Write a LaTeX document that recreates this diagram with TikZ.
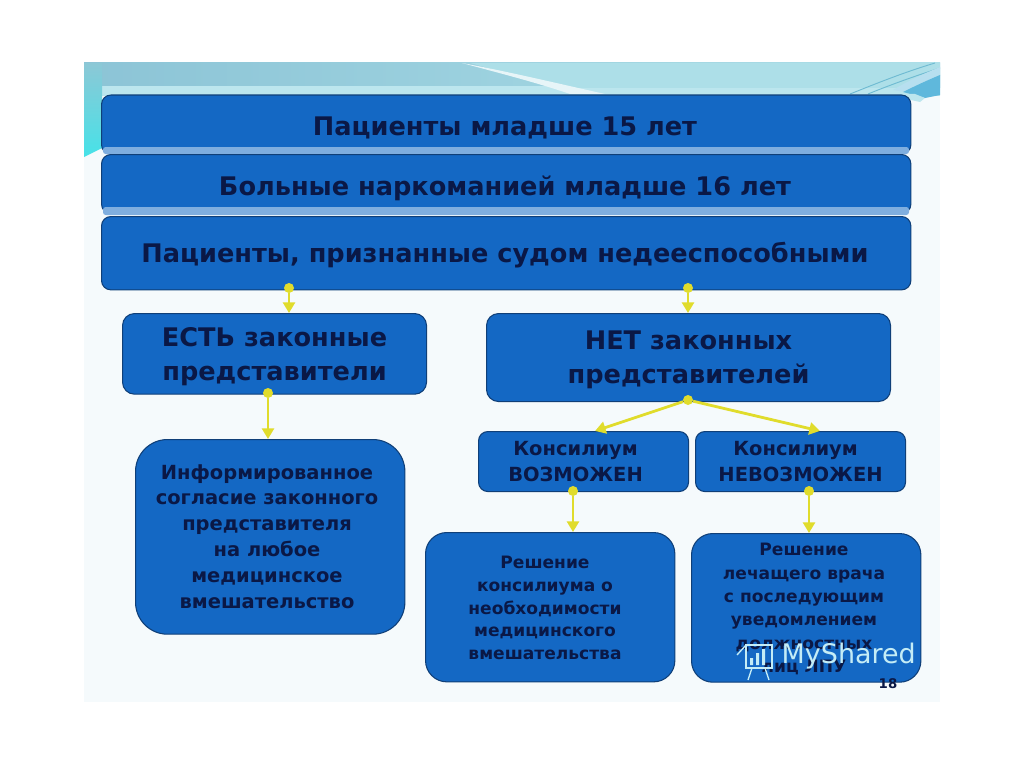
\documentclass[tikz,border=0pt]{standalone}
\usepackage{fontspec}
\setmainfont{DejaVu Sans}
\usetikzlibrary{arrows.meta,calc}
\definecolor{boxblue}{HTML}{1468C4}
\definecolor{boxedge}{HTML}{0F3F78}
\definecolor{boxlight}{HTML}{7FAEDF}
\definecolor{ink}{HTML}{0A1846}
\definecolor{arrowy}{HTML}{E0DC2C}
\definecolor{pagebg}{HTML}{F5FAFC}
\definecolor{bandleft}{HTML}{8CC4D6}
\definecolor{bandright}{HTML}{ADDFE8}
\definecolor{bandlow}{HTML}{BCE6EE}
\definecolor{tealtop}{HTML}{8CC8D6}
\definecolor{tealbot}{HTML}{46E2E8}
\definecolor{swoosh}{HTML}{5FB8DC}
\definecolor{swooshline}{HTML}{6FBBD2}
\definecolor{markcol}{HTML}{C4ECF6}
\tikzset{
  x=0.75pt,y=-0.75pt,
  bluebox/.style={draw=boxedge,line width=0.8pt,fill=boxblue,text=ink,align=center,inner sep=0pt,anchor=north west},
  wide/.style={bluebox,minimum width=607pt,rounded corners=7pt},
  textonly/.style={text=ink,align=center,inner sep=0pt},
  bigfont/.style={font=\bfseries\fontsize{19.2}{23}\selectfont},
  midfont/.style={font=\bfseries\fontsize{19.2}{25.5}\selectfont},
  smallfont/.style={font=\bfseries\fontsize{14.6}{19.4}\selectfont},
  consfont/.style={font=\bfseries\fontsize{14.6}{20}\selectfont},
  tinyfont/.style={font=\bfseries\fontsize{12.8}{17.1}\selectfont},
  docfont/.style={font=\bfseries\fontsize{12.8}{17.5}\selectfont},
  dotmark/.style={circle,fill=arrowy,draw=none,minimum size=7.5pt,inner sep=0pt},
  link/.style={draw=arrowy,line width=2.1pt,-{Triangle[length=8pt,width=9pt]}}
}
\begin{document}
\begin{tikzpicture}
\useasboundingbox (0,0) rectangle (1024,767);
\fill[white] (0,0) rectangle (1024,767);
% slide background
\fill[pagebg] (84,63) rectangle (940,702);
% top band
\shade[left color=bandleft,right color=bandright] (84,63) rectangle (940,88);
\fill[bandlow] (84,86) rectangle (940,96);
\fill[bandright] (470,63) -- (940,63) -- (940,88) -- (560,88) -- cycle;
\fill[white!70!bandright] (462,63) .. controls (510,72) and (560,84) .. (605,94) -- (570,94) .. controls (535,82) and (495,72) .. (462,63) -- cycle;
% left teal wedge
\shade[top color=tealtop,bottom color=tealbot] (84,63) -- (102,63) -- (102,148) -- (84,157) -- cycle;
% right swoosh
\draw[swooshline,line width=0.7pt] (850,94) .. controls (880,82) and (905,72) .. (935,63);
\draw[swooshline,line width=0.7pt] (868,94) .. controls (890,85) and (915,76) .. (940,68);
\fill[white!55!swoosh] (893,90) .. controls (908,81) and (925,73) .. (940,67) -- (940,76) -- (905,92) -- cycle;
\fill[swoosh] (903,92) .. controls (915,86) and (928,80) .. (940,75) -- (940,95) -- (925,98) -- cycle;
\fill[bandlow] (900,94) -- (915,94) -- (925,98) -- (920,102) -- (911,100) -- cycle;
% wide boxes
\node[wide,minimum height=44.25pt] (young) at (101,94.5) {};
\fill[boxlight,rounded corners=2pt] (103,147) rectangle (909,154);
\node[wide,minimum height=44.25pt] (addict) at (101,154) {};
\fill[boxlight,rounded corners=2pt] (103,207) rectangle (909,215);
\node[wide,minimum height=55pt] (incap) at (101,216) {};
\node[ink,bigfont,anchor=base] (youngt) at (505,135.5) {Пациенты младше 15 лет};
\node[ink,bigfont,anchor=base] (addictt) at (505,195.5) {Больные наркоманией младше 16 лет};
\node[ink,bigfont,anchor=base] (incapt) at (505,262.5) {Пациенты, признанные судом недееспособными};
% middle boxes
\node[bluebox,midfont,minimum width=228pt,minimum height=60.5pt,rounded corners=9pt] (yes) at (122,313) {\rule{0pt}{19pt}ЕСТЬ законные\\ представители};
\node[bluebox,midfont,minimum width=303pt,minimum height=66pt,rounded corners=9pt] (no) at (486,313) {\rule{0pt}{17.5pt}НЕТ законных\\ представителей};
\node[bluebox,consfont,minimum width=157.5pt,minimum height=45pt,rounded corners=7pt] (can) at (478,431) {Консилиум\hspace*{12pt}\\ВОЗМОЖЕН\hspace*{12pt}};
\node[bluebox,consfont,minimum width=157.5pt,minimum height=45pt,rounded corners=7pt] (cannot) at (695,431) {Консилиум\hspace*{7.5pt}\\НЕВОЗМОЖЕН};
% bottom boxes
\node[bluebox,minimum width=202pt,minimum height=146pt,rounded corners=24pt] (consent) at (135,439) {};
\node[textonly,smallfont] (consentt) at (267,536.5) {Информированное\\согласие законного\\представителя\\на любое\\медицинское\\вмешательство};
\node[bluebox,minimum width=187pt,minimum height=112pt,rounded corners=16pt] (decide) at (425,532) {};
\node[textonly,tinyfont] (decidet) at (545,608) {Решение\\консилиума о\\необходимости\\медицинского\\вмешательства};
\node[bluebox,minimum width=172pt,minimum height=111.5pt,rounded corners=16pt] (doctor) at (691,533) {};
\node[textonly,docfont,anchor=north] (doctort) at (804,543) {Решение\\лечащего врача\\ с последующим\\уведомлением \\должностных\\лиц ЛПУ};
% connectors
\node[dotmark] (d1) at (289,288) {};
\node[dotmark] (d2) at (688,288) {};
\node[dotmark] (d3) at (268,393) {};
\node[dotmark] (d4) at (688,400) {};
\node[dotmark] (d5) at (573,491) {};
\node[dotmark] (d6) at (809,491) {};
\coordinate (t4a) at (595,431);
\coordinate (t4b) at (820,431);
\draw[link] (d1) -- (yes.north -| d1);
\draw[link] (d2) -- (no.north -| d2);
\draw[link] (d3) -- (consent.north -| d3);
\draw[link] (d4) -- (t4a);
\draw[link] (d4) -- (t4b);
\draw[link] (d5) -- (decide.north -| d5);
\draw[link] (d6) -- (doctor.north -| d6);
% page number and watermark
\node[ink,font=\bfseries\fontsize{10}{12}\selectfont] (pagenum) at (888,684) {18};
\node[markcol,font=\fontsize{20.2}{24}\selectfont,anchor=west] (mark) at (777,656) {MyShared};
\draw[markcol,line width=1pt] (746,645) rectangle (772,668);
\fill[markcol] (750,658) rectangle (753,665) (756,653) rectangle (759,665) (762,649) rectangle (765,665);
\draw[markcol,line width=1pt] (737,655) -- (746,645) (752,668) -- (748,680) (765,668) -- (769,680);
\end{tikzpicture}
\end{document}
